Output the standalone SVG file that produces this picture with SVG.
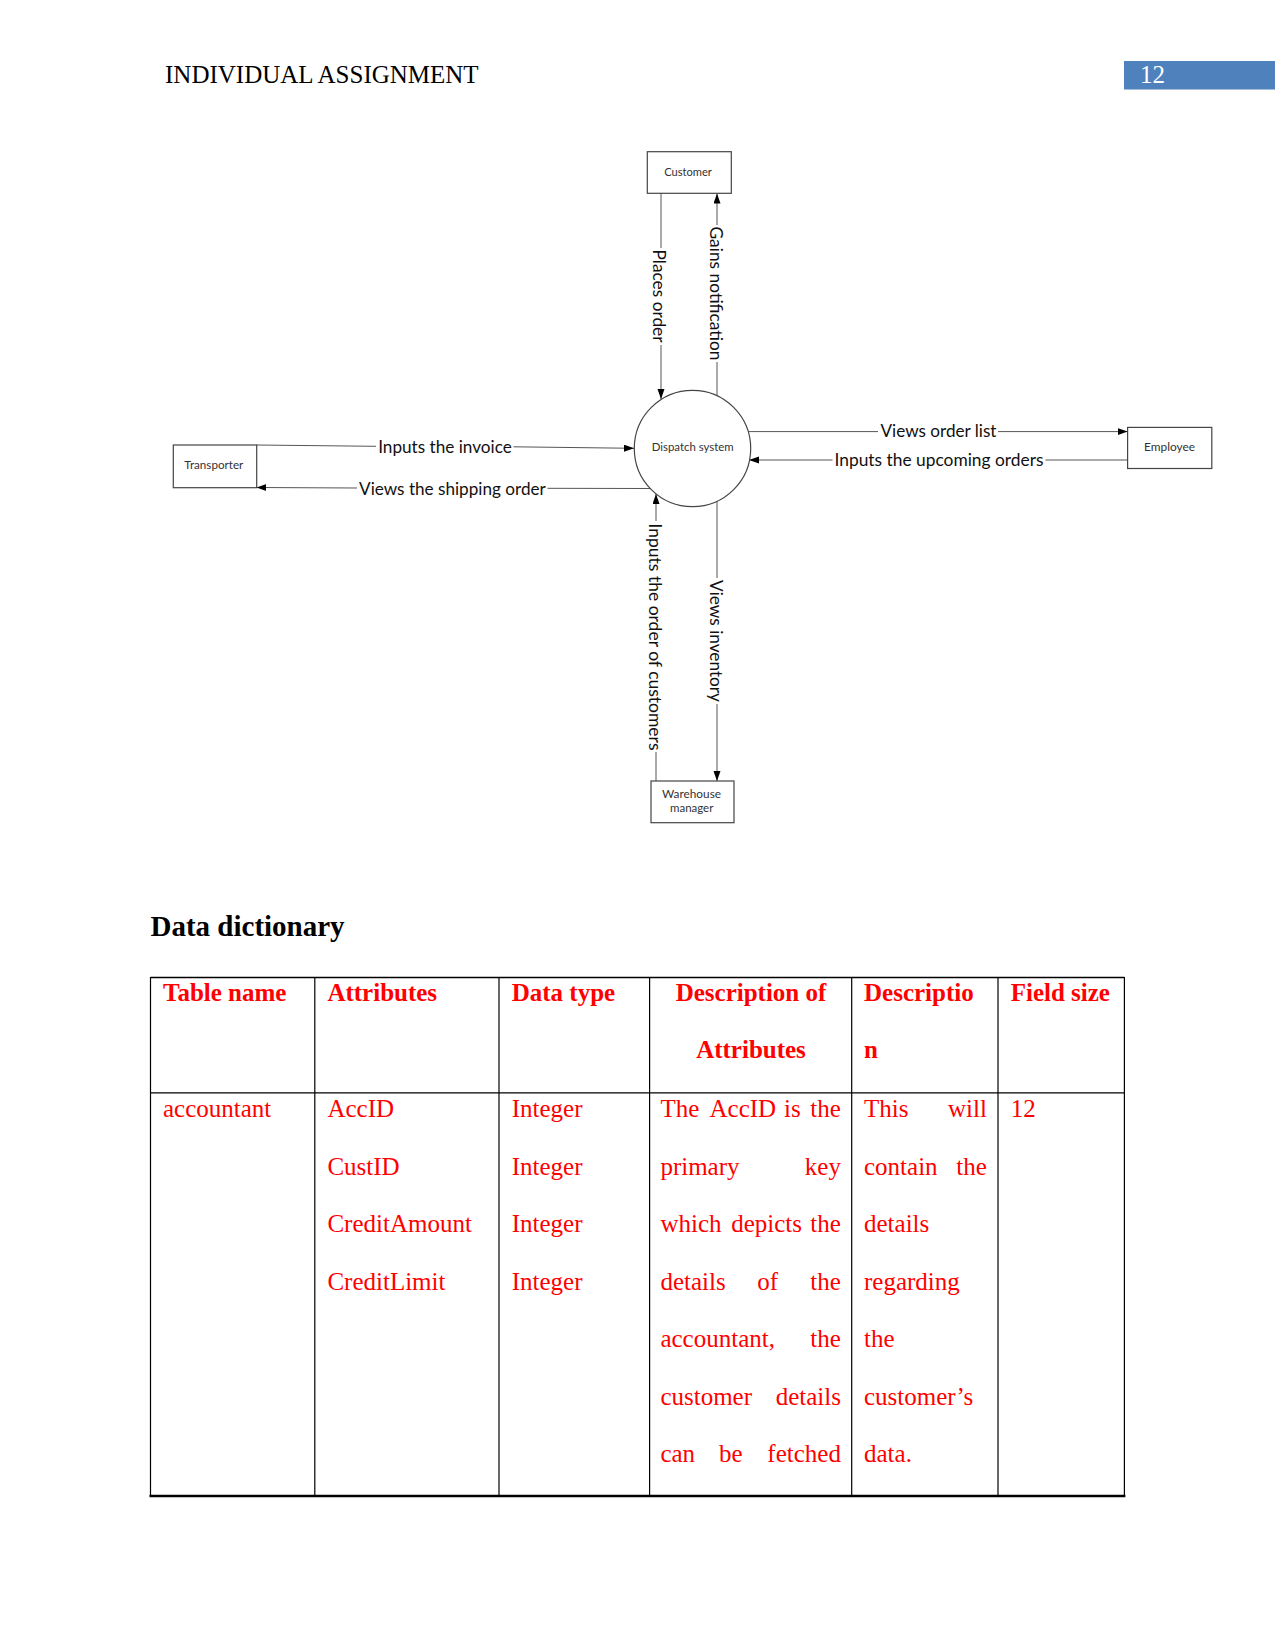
<svg xmlns="http://www.w3.org/2000/svg" width="1275" height="1651" viewBox="0 0 1275 1651">
<style>
.page{font-family:"Liberation Serif","Times New Roman",serif;font-size:25px}
.hdr{fill:#000}
.red{fill:#ff0000}
.bold{font-weight:bold}
.box{fill:#fff;stroke:#444;stroke-width:1.2}
.nl{font-family:Lato,"Open Sans",sans-serif;font-size:10.5px;fill:#333;text-anchor:middle;dominant-baseline:central}
.cl{font-family:Lato,"Open Sans",sans-serif;font-size:17px;fill:#111;text-anchor:middle;dominant-baseline:central}
.ln{stroke:#555;stroke-width:1;fill:none}
.arr{marker-end:url(#ah)}
.tb{stroke:#000;stroke-width:1.2}
</style>
<defs>
<marker id="ah" markerUnits="userSpaceOnUse" markerWidth="11" markerHeight="8" refX="10" refY="3.5" orient="auto">
<path d="M0,0 L10,3.5 L0,7 z" fill="#000"/>
</marker>
</defs>
<rect width="1275" height="1651" fill="#fff"/>

<g id="page-header">
<text class="page hdr" x="165" y="83">INDIVIDUAL ASSIGNMENT</text>
<rect x="1124" y="61" width="151" height="28.5" fill="#4f81bd"/>
<text class="page" x="1140" y="83" fill="#fff">12</text>
</g>

<g id="connectors">
<line class="ln" x1="661" y1="193.5" x2="661" y2="248"/>
<line class="ln arr" x1="661" y1="345" x2="661" y2="399"/>
<text class="cl" transform="rotate(90 659 296)" x="659" y="296" textLength="93" lengthAdjust="spacingAndGlyphs">Places order</text>

<line class="ln" x1="717" y1="395.7" x2="717" y2="362"/>
<line class="ln arr" x1="717" y1="225" x2="717" y2="193.5"/>
<text class="cl" transform="rotate(90 716.5 293.5)" x="716.5" y="293.5" textLength="134" lengthAdjust="spacingAndGlyphs">Gains notification</text>

<line class="ln" x1="256.5" y1="445" x2="376" y2="446.3"/>
<line class="ln arr" x1="513.5" y1="446.8" x2="634" y2="448.3"/>
<text class="cl" x="445" y="446.7" textLength="133.7" lengthAdjust="spacingAndGlyphs">Inputs the invoice</text>

<line class="ln" x1="650" y1="488.5" x2="547.5" y2="488.3"/>
<line class="ln arr" x1="357" y1="488" x2="256.5" y2="487.5"/>
<text class="cl" x="452.4" y="488.3" textLength="186.7" lengthAdjust="spacingAndGlyphs">Views the shipping order</text>

<line class="ln" x1="747.6" y1="431.6" x2="878" y2="431.6"/>
<line class="ln arr" x1="998" y1="431.6" x2="1127.6" y2="431.6"/>
<text class="cl" x="938.5" y="430.6" textLength="116" lengthAdjust="spacingAndGlyphs">Views order list</text>

<line class="ln" x1="1127.6" y1="460" x2="1045.5" y2="460"/>
<line class="ln arr" x1="832.5" y1="460" x2="749" y2="460"/>
<text class="cl" x="939" y="459" textLength="209" lengthAdjust="spacingAndGlyphs">Inputs the upcoming orders</text>

<line class="ln" x1="656" y1="781" x2="656" y2="752"/>
<line class="ln arr" x1="656" y1="521" x2="656" y2="494"/>
<text class="cl" transform="rotate(90 655 637)" x="655" y="637" textLength="227" lengthAdjust="spacingAndGlyphs">Inputs the order of customers</text>

<line class="ln" x1="717" y1="500.3" x2="717" y2="578"/>
<line class="ln arr" x1="717" y1="704" x2="717" y2="781"/>
<text class="cl" transform="rotate(90 716 641)" x="716" y="641" textLength="122" lengthAdjust="spacingAndGlyphs">Views inventory</text>
</g>

<g id="customer">
<rect class="box" x="647.3" y="151.7" width="84" height="41.6"/>
<text class="nl" x="688" y="172.3" textLength="47.7" lengthAdjust="spacingAndGlyphs">Customer</text>
</g>
<g id="dispatch-system">
<circle class="box" cx="692.5" cy="448.5" r="58.2"/>
<text class="nl" x="692.7" y="447.4" textLength="82" lengthAdjust="spacingAndGlyphs">Dispatch system</text>
</g>
<g id="transporter">
<rect class="box" x="173.3" y="445" width="83.4" height="42.7"/>
<text class="nl" x="213.8" y="465" textLength="59" lengthAdjust="spacingAndGlyphs">Transporter</text>
</g>
<g id="employee">
<rect class="box" x="1127.6" y="427.4" width="84.2" height="41.1"/>
<text class="nl" x="1169.5" y="447.4" textLength="51" lengthAdjust="spacingAndGlyphs">Employee</text>
</g>
<g id="warehouse-manager">
<rect class="box" x="651" y="781" width="83" height="41.7"/>
<text class="nl" x="691.5" y="794.3" textLength="59" lengthAdjust="spacingAndGlyphs">Warehouse</text>
<text class="nl" x="691.7" y="808.3" textLength="43.3" lengthAdjust="spacingAndGlyphs">manager</text>
</g>

<g id="data-dictionary">
<text class="page bold hdr" x="150.5" y="936" style="font-size:29px">Data dictionary</text>
<g id="table-lines">
<line class="tb" x1="150.5" y1="977.5" x2="1124.4" y2="977.5" style="stroke-width:1.6"/>
<line class="tb" x1="150.5" y1="1092.8" x2="1124.4" y2="1092.8"/>
<line class="tb" x1="149.5" y1="1496" x2="1125.4" y2="1496" style="stroke-width:2.6"/>
<line class="tb" x1="150.5" y1="977" x2="150.5" y2="1496"/>
<line class="tb" x1="314.8" y1="977" x2="314.8" y2="1496"/>
<line class="tb" x1="499" y1="977" x2="499" y2="1496"/>
<line class="tb" x1="649.6" y1="977" x2="649.6" y2="1496"/>
<line class="tb" x1="851.7" y1="977" x2="851.7" y2="1496"/>
<line class="tb" x1="998" y1="977" x2="998" y2="1496"/>
<line class="tb" x1="1124.4" y1="977" x2="1124.4" y2="1496"/>
</g>
<g id="table-header" class="page bold red">
<text x="163" y="1001">Table name</text>
<text x="327.4" y="1001">Attributes</text>
<text x="511.7" y="1001">Data type</text>
<text x="751" y="1001" text-anchor="middle">Description of</text>
<text x="751" y="1058" text-anchor="middle">Attributes</text>
<text x="864" y="1001">Descriptio</text>
<text x="864" y="1058">n</text>
<text x="1010.7" y="1001">Field size</text>
</g>
<g id="table-body" class="page red">
<text x="163" y="1117">accountant</text>
<text x="327.4" y="1117">AccID</text>
<text x="327.4" y="1174.5">CustID</text>
<text x="327.4" y="1232">CreditAmount</text>
<text x="327.4" y="1289.5">CreditLimit</text>
<text x="511.7" y="1117">Integer</text>
<text x="511.7" y="1174.5">Integer</text>
<text x="511.7" y="1232">Integer</text>
<text x="511.7" y="1289.5">Integer</text>

<text x="660.4" y="1117">The</text>
<text x="709.5" y="1117">AccID</text>
<text x="784.1" y="1117">is</text>
<text x="840.9" y="1117" text-anchor="end">the</text>
<text x="660.4" y="1174.5">primary</text>
<text x="840.9" y="1174.5" text-anchor="end">key</text>
<text x="660.4" y="1232">which</text>
<text x="731.2" y="1232">depicts</text>
<text x="840.9" y="1232" text-anchor="end">the</text>
<text x="660.4" y="1289.5">details</text>
<text x="757.3" y="1289.5">of</text>
<text x="840.9" y="1289.5" text-anchor="end">the</text>
<text x="660.4" y="1347">accountant,</text>
<text x="840.9" y="1347" text-anchor="end">the</text>
<text x="660.4" y="1404.5">customer</text>
<text x="840.9" y="1404.5" text-anchor="end">details</text>
<text x="660.4" y="1462">can</text>
<text x="719.1" y="1462">be</text>
<text x="840.9" y="1462" text-anchor="end">fetched</text>

<text x="864" y="1117">This</text>
<text x="986.9" y="1117" text-anchor="end">will</text>
<text x="864" y="1174.5">contain</text>
<text x="986.9" y="1174.5" text-anchor="end">the</text>
<text x="864" y="1232">details</text>
<text x="864" y="1289.5">regarding</text>
<text x="864" y="1347">the</text>
<text x="864" y="1404.5">customer’s</text>
<text x="864" y="1462">data.</text>

<text x="1010.7" y="1117">12</text>
</g>
</g>
</svg>
